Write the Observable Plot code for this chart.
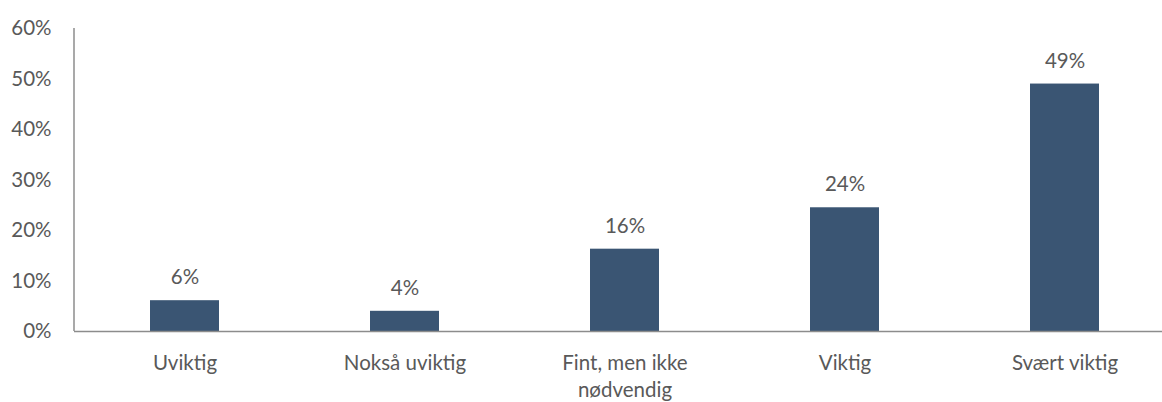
<!DOCTYPE html>
<html>
<head>
<meta charset="utf-8">
<script src="https://cdn.jsdelivr.net/npm/d3@7"></script>
<script src="https://cdn.jsdelivr.net/npm/@observablehq/plot@0.6"></script>
<style>
  html, body { margin: 0; padding: 0; background: #fff; }
  #chart svg { display: block; }
</style>
</head>
<body>
<div id="chart"></div>
<script>
const categories = ["Uviktig", "Nokså uviktig", "Fint, men ikke\nnødvendig", "Viktig", "Svært viktig"];
const values = [6.1, 4.0, 16.3, 24.5, 49.0];
const valueLabels = ["6%", "4%", "16%", "24%", "49%"];
const yTicks = [0, 10, 20, 30, 40, 50, 60];

const data = categories.map((c, i) => ({category: c, value: values[i], label: valueLabels[i]}));

const font = "Lato, 'Open Sans', sans-serif";
const textColor = "#595959";
const fs = 20.5;

const chart = Plot.plot({
  width: 1162,
  height: 402,
  marginLeft: 74,
  marginRight: 0,
  marginTop: 28,
  marginBottom: 71,
  style: {fontFamily: font, fontSize: fs + "px", color: textColor, background: "#fff"},
  x: {domain: categories, range: [74.3, 1175.7], paddingInner: 0.686, paddingOuter: 0.343, align: 0.5, axis: null},
  y: {domain: [0, 60], axis: null},
  marks: [
    Plot.barY(data, {x: "category", y: "value", fill: "#3A5573"}),
    Plot.ruleY([0], {stroke: "#8c8c8c", strokeWidth: 1.5}),
    Plot.axisY(yTicks, {
      tickSize: 0, tickPadding: 0, dx: -23,
      tickFormat: d => d + "%", fontSize: fs, fill: textColor, label: null
    }),
    Plot.axisX({
      tickSize: 0, tickPadding: 20, fontSize: fs, fill: textColor, label: null,
      lineHeight: 1.3, textOverflow: null
    }),
    Plot.text(data, {x: "category", y: "value", text: "label", dy: -23, fontSize: fs, fill: textColor})
  ]
});

// vertical left axis line positioned through the y scale
const ys = chart.scale("y");
d3.select(chart).append("line")
  .attr("x1", 74).attr("x2", 74)
  .attr("y1", ys.apply(60)).attr("y2", ys.apply(0))
  .attr("stroke", "#8c8c8c").attr("stroke-width", 1.5);

document.getElementById("chart").appendChild(chart);
</script>
</body>
</html>
